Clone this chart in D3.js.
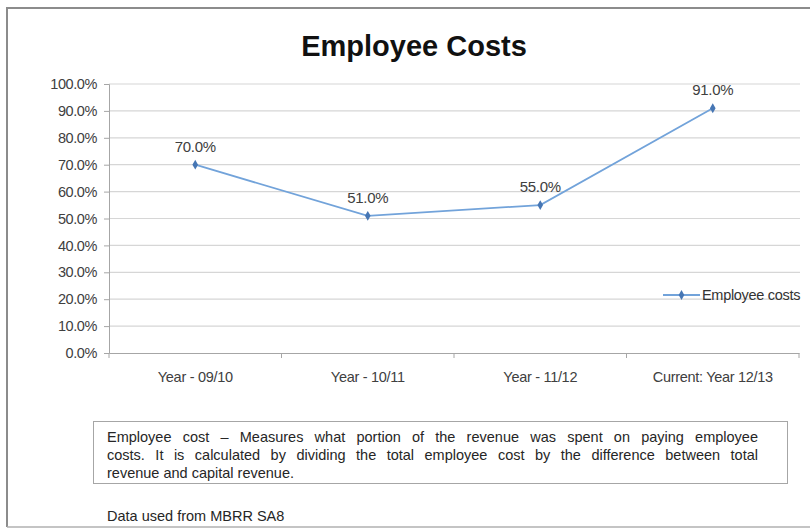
<!DOCTYPE html>
<html>
<head>
<meta charset="utf-8">
<script src="https://cdn.jsdelivr.net/npm/d3@7/dist/d3.min.js"></script>
<style>
  html, body { margin: 0; padding: 0; background: #fff; }
  svg { display: block; font-family: "Liberation Sans", Arial, sans-serif; }
</style>
</head>
<body>
<svg id="chart" width="810" height="529"></svg>
<script>
// Employee costs as a share of (total revenue - capital revenue)
const categories = ["Year - 09/10", "Year - 10/11", "Year - 11/12", "Current: Year 12/13"];
const employeeCosts = [0.70, 0.51, 0.55, 0.91];
const yTicks = [0, 0.1, 0.2, 0.3, 0.4, 0.5, 0.6, 0.7, 0.8, 0.9, 1.0];
const seriesName = "Employee costs";
const chartTitle = "Employee Costs";
const noteLines = [
  "Employee cost \u2013 Measures what portion of the revenue was spent on paying employee",
  "costs. It is calculated by dividing the total employee cost by the difference between total",
  "revenue and capital revenue."
];
const sourceText = "Data used from MBRR SA8";

const svg = d3.select("#chart");
const pct = d3.format(".1%");

// outer frame (top, left, bottom edges)
svg.append("path")
  .attr("d", "M7,527 L7,8 L810,8")
  .attr("fill", "none").attr("stroke", "#8c8c8c").attr("stroke-width", 2);
svg.append("line")
  .attr("x1", 7).attr("x2", 810).attr("y1", 527).attr("y2", 527)
  .attr("stroke", "#b0b0b0").attr("stroke-width", 1.5);

// title
svg.append("text")
  .attr("x", 414).attr("y", 56)
  .attr("text-anchor", "middle")
  .attr("font-size", 29).attr("font-weight", "bold").attr("fill", "#111")
  .text(chartTitle);

const x = d3.scaleBand().domain(categories).range([109, 799]);
const y = d3.scaleLinear().domain([0, 1]).range([353, 84]);

// horizontal gridlines
svg.append("g").selectAll("line").data(yTicks.slice(1)).join("line")
  .attr("x1", 109).attr("x2", 800)
  .attr("y1", d => y(d)).attr("y2", d => y(d))
  .attr("stroke", "#d6d6d6").attr("stroke-width", 1.2);

// y axis
const yAxis = svg.append("g")
  .attr("transform", "translate(109,0)")
  .call(d3.axisLeft(y).tickValues(yTicks).tickFormat(pct).tickSize(5).tickPadding(7));
yAxis.select(".domain").attr("stroke", "#a6a6a6");
yAxis.selectAll(".tick line").attr("stroke", "#a6a6a6");
yAxis.selectAll("text").attr("font-size", 14.5).attr("fill", "#404040")
  .attr("font-family", "Liberation Sans, Arial, sans-serif").attr("letter-spacing", -0.4);

// x axis with ticks at category boundaries
const xAxis = svg.append("g")
  .attr("transform", `translate(0,${y(0)})`)
  .call(d3.axisBottom(x).tickSize(0).tickPadding(19));
xAxis.select(".domain").attr("stroke", "#a6a6a6");
xAxis.selectAll("text").attr("font-size", 14.5).attr("fill", "#404040")
  .attr("font-family", "Liberation Sans, Arial, sans-serif").attr("letter-spacing", -0.3);
const bounds = categories.map(c => x(c)).concat([x.range()[1]]);
xAxis.selectAll(".bnd").data(bounds).join("line")
  .attr("class", "bnd")
  .attr("x1", d => d).attr("x2", d => d).attr("y1", 0).attr("y2", 5)
  .attr("stroke", "#a6a6a6");

// series line
const cx = (d, i) => x(categories[i]) + x.bandwidth() / 2;
const line = d3.line().x((d, i) => cx(d, i)).y(d => y(d));
svg.append("path")
  .datum(employeeCosts)
  .attr("d", line)
  .attr("fill", "none").attr("stroke", "#72a3da").attr("stroke-width", 1.8);

// diamond markers
const diamond = d3.symbol().type(d3.symbolDiamond).size(28);
svg.append("g").selectAll("path").data(employeeCosts).join("path")
  .attr("d", diamond)
  .attr("transform", (d, i) => `translate(${cx(d, i)},${y(d)})`)
  .attr("fill", "#4676b4");

// value labels
svg.append("g").selectAll("text").data(employeeCosts).join("text")
  .attr("x", (d, i) => cx(d, i))
  .attr("y", d => y(d) - 13)
  .attr("text-anchor", "middle")
  .attr("font-size", 15).attr("fill", "#404040").attr("letter-spacing", -0.3)
  .text(d => pct(d));

// legend
const lg = svg.append("g").attr("transform", "translate(663,295)");
lg.append("line").attr("x1", 0).attr("x2", 37).attr("y1", 0).attr("y2", 0)
  .attr("stroke", "#72a3da").attr("stroke-width", 1.8);
lg.append("path").attr("d", diamond).attr("transform", "translate(18.5,0)").attr("fill", "#4676b4");
lg.append("text").attr("x", 39).attr("y", 5)
  .attr("font-size", 14.5).attr("fill", "#333").attr("letter-spacing", -0.3)
  .text(seriesName);

// explanatory note box, justified except the last line
const boxX = 93.5, boxW = 694, textX = 107, textRight = 758;
svg.append("rect")
  .attr("x", boxX).attr("y", 421.5).attr("width", boxW).attr("height", 62)
  .attr("fill", "#fff").attr("stroke", "#a6a6a6").attr("stroke-width", 1);
const note = svg.append("g").selectAll("text").data(noteLines).join("text")
  .attr("x", textX).attr("y", (d, i) => 442 + i * 18)
  .attr("font-size", 14.5).attr("fill", "#262626")
  .text(d => d);
note.each(function(d, i) {
  if (i === noteLines.length - 1) return;
  const gaps = d.split(" ").length - 1;
  const extra = (textRight - textX) - this.getComputedTextLength();
  if (gaps > 0 && extra > 0) d3.select(this).attr("word-spacing", extra / gaps);
});

svg.append("text")
  .attr("x", textX).attr("y", 521)
  .attr("font-size", 14.5).attr("fill", "#262626")
  .text(sourceText);
</script>
</body>
</html>
